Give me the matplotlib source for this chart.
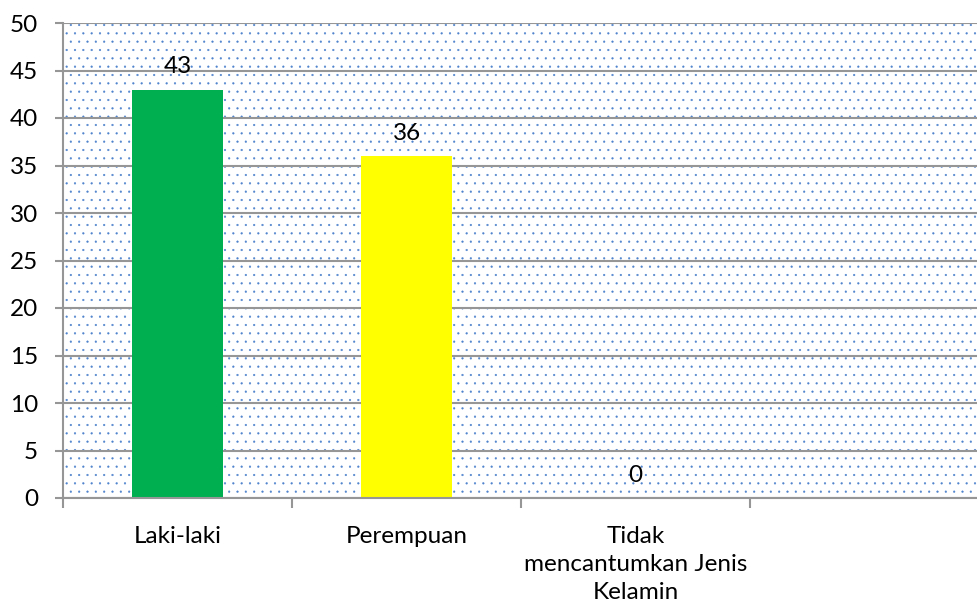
import matplotlib
matplotlib.use("Agg")
import matplotlib.pyplot as plt
import numpy as np

categories = ['Laki-laki', 'Perempuan', 'Tidak\nmencantumkan Jenis\nKelamin']
values = [43, 36, 0]
bar_colors = ['#00B050', '#FFFF00', '#FFFF00']
n_slots = 4  # plot area leaves room for an empty fourth slot

plt.rcParams['font.family'] = ['Lato', 'DejaVu Sans']
plt.rcParams['hatch.linewidth'] = 0.35

grid_gray = '#969696'
fs = 17.5

fig = plt.figure(figsize=(9.77, 6.08), dpi=100)
ax = fig.add_axes([63 / 977, 110 / 608, 916 / 977, 475 / 608])

# dotted background of the plot area
ax.patch.set_facecolor('white')
ax.patch.set_edgecolor('#4F83CC')
ax.patch.set_linewidth(0)
ax.patch.set_hatch('..')

x = np.arange(len(categories))
bars = ax.bar(x, values, width=0.4, color=bar_colors, zorder=2)
ax.bar_label(bars, labels=[str(v) for v in values], padding=9, fontsize=fs)

ax.set_xlim(-0.5, n_slots - 0.5)
ax.set_ylim(0, 50)
ax.set_yticks(np.arange(0, 51, 5))
ax.yaxis.grid(True, color=grid_gray, lw=1.5)
ax.set_axisbelow(True)

# category boundaries get the tick marks, labels sit in between
ax.set_xticks(np.arange(n_slots + 1) - 0.5)
ax.set_xticklabels([])
ax.set_xticks(x, minor=True)
ax.set_xticklabels(categories, minor=True, fontsize=fs, linespacing=1.42, va='top')
ax.tick_params(axis='x', which='major', length=7, width=1.5, color=grid_gray, direction='out')
ax.tick_params(axis='x', which='minor', length=0, pad=20)
ax.tick_params(axis='y', length=6, width=1.5, color=grid_gray, direction='out', pad=12, labelsize=fs)

for side in ['top', 'right']:
    ax.spines[side].set_visible(False)
for side in ['left', 'bottom']:
    ax.spines[side].set_color(grid_gray)
    ax.spines[side].set_linewidth(1.5)

plt.savefig('out.png', dpi=100)
